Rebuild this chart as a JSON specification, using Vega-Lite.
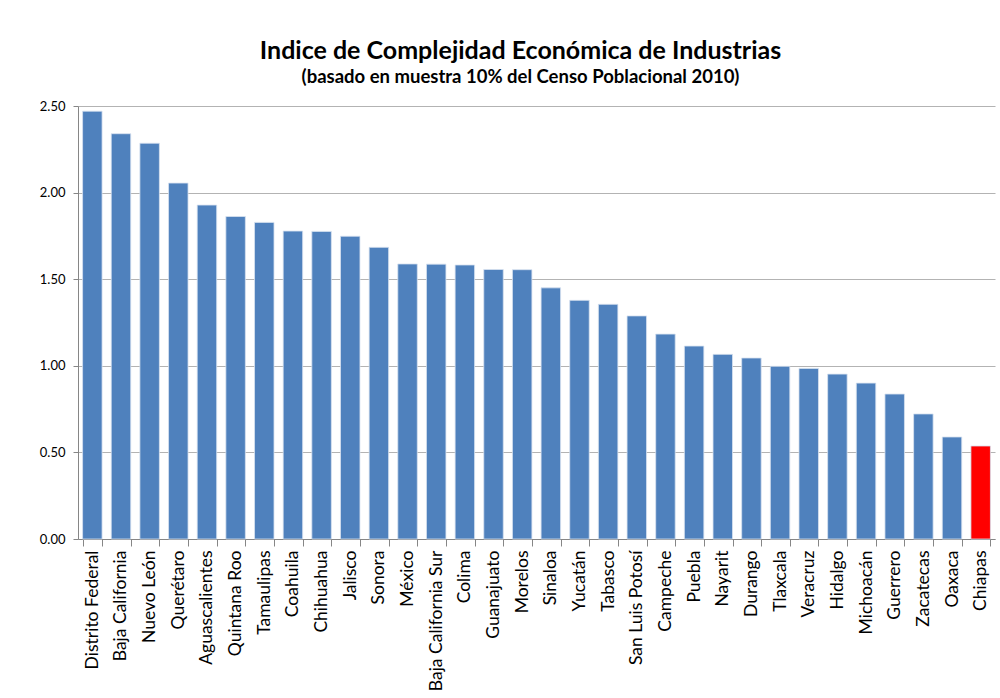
{
  "$schema": "https://vega.github.io/schema/vega-lite/v6.json",
  "width": 917,
  "height": 433,
  "autosize": {"type": "none"},
  "padding": {"left": 78, "top": 106, "right": 5, "bottom": 159},
  "background": "white",
  "title": {
    "text": "Indice de Complejidad Económica de Industrias",
    "subtitle": "(basado en muestra 10% del Censo Poblacional 2010)",
    "anchor": "middle",
    "font": "Lato",
    "fontSize": 25,
    "fontWeight": "bold",
    "color": "black",
    "subtitleFont": "Lato",
    "subtitleFontSize": 18.5,
    "subtitleFontWeight": "bold",
    "subtitleColor": "black",
    "subtitlePadding": 4,
    "offset": 14,
    "dx": -16
  },
  "data": {
    "values": [
      {"estado": "Distrito Federal", "ice": 2.47},
      {"estado": "Baja California", "ice": 2.34},
      {"estado": "Nuevo León", "ice": 2.285},
      {"estado": "Querétaro", "ice": 2.055},
      {"estado": "Aguascalientes", "ice": 1.928},
      {"estado": "Quintana Roo", "ice": 1.862},
      {"estado": "Tamaulipas", "ice": 1.828},
      {"estado": "Coahuila", "ice": 1.778},
      {"estado": "Chihuahua", "ice": 1.776},
      {"estado": "Jalisco", "ice": 1.748},
      {"estado": "Sonora", "ice": 1.684},
      {"estado": "México", "ice": 1.588},
      {"estado": "Baja California Sur", "ice": 1.587},
      {"estado": "Colima", "ice": 1.582},
      {"estado": "Guanajuato", "ice": 1.556},
      {"estado": "Morelos", "ice": 1.555},
      {"estado": "Sinaloa", "ice": 1.45},
      {"estado": "Yucatán", "ice": 1.378},
      {"estado": "Tabasco", "ice": 1.355},
      {"estado": "San Luis Potosí", "ice": 1.288},
      {"estado": "Campeche", "ice": 1.183},
      {"estado": "Puebla", "ice": 1.114},
      {"estado": "Nayarit", "ice": 1.066},
      {"estado": "Durango", "ice": 1.045},
      {"estado": "Tlaxcala", "ice": 0.997},
      {"estado": "Veracruz", "ice": 0.985},
      {"estado": "Hidalgo", "ice": 0.952},
      {"estado": "Michoacán", "ice": 0.9},
      {"estado": "Guerrero", "ice": 0.837},
      {"estado": "Zacatecas", "ice": 0.722},
      {"estado": "Oaxaca", "ice": 0.589},
      {"estado": "Chiapas", "ice": 0.537}
    ]
  },
  "mark": {"type": "bar", "stroke": "#D8E2F0", "strokeWidth": 0.8},
  "encoding": {
    "x": {
      "field": "estado",
      "type": "nominal",
      "sort": null,
      "scale": {"paddingInner": 0.32, "paddingOuter": 0.16},
      "axis": {
        "title": null,
        "tickBand": "extent",
        "labelAngle": -90,
        "labelAlign": "right",
        "labelBaseline": "middle",
        "labelFont": "Lato",
        "labelFontSize": 17.5,
        "labelColor": "black",
        "labelPadding": 4,
        "tickSize": 7,
        "tickColor": "#868686",
        "domainColor": "#868686",
        "labelLimit": 0
      }
    },
    "y": {
      "field": "ice",
      "type": "quantitative",
      "scale": {"domain": [0, 2.5], "nice": false},
      "axis": {
        "title": null,
        "values": [0, 0.5, 1, 1.5, 2, 2.5],
        "format": ".2f",
        "labelFont": "Lato",
        "labelFontSize": 13,
        "labelColor": "black",
        "labelPadding": 8,
        "tickSize": 5,
        "tickColor": "#868686",
        "domainColor": "#868686",
        "grid": true,
        "gridColor": "#B3B3B3",
        "gridWidth": 1
      }
    },
    "color": {
      "condition": {"test": "datum.estado === 'Chiapas'", "value": "#FF0000"},
      "value": "#4F81BD"
    }
  },
  "config": {"view": {"stroke": null}}
}
